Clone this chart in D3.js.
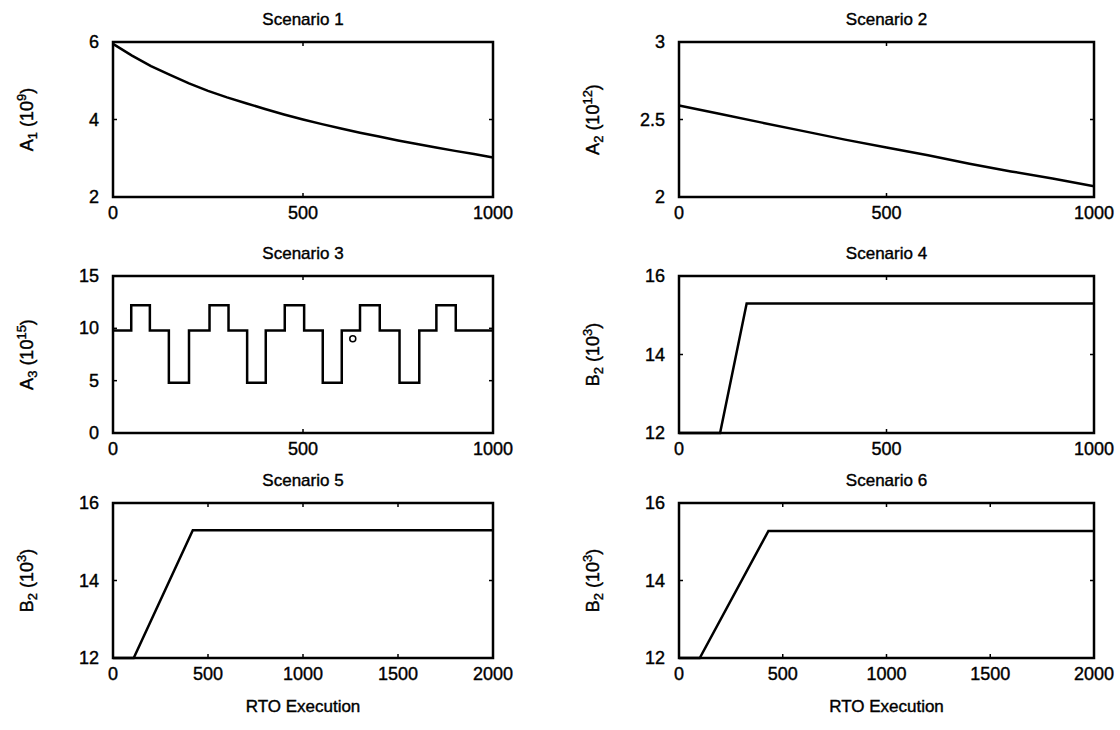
<!DOCTYPE html>
<html lang="en">
<head>
<meta charset="utf-8">
<title>RTO scenarios</title>
<script src="https://cdn.jsdelivr.net/npm/d3@7"></script>
<style>
	body {
		margin: 0px;
		padding: 0px;
		background-color: #fff;
	}

	svg text {
		font-family: "Liberation Sans", Arial, Helvetica, sans-serif;
		fill: #000;
		stroke: #000;
		stroke-width: 0.4;
	}

	.frame {
		fill: none;
		stroke: #000;
		stroke-width: 2.5;
	}

	.tick-mark {
		stroke: #000;
		stroke-width: 1.5;
	}

	.series {
		fill: none;
		stroke: #000;
		stroke-width: 2.5;
		stroke-linejoin: miter;
	}

	.tick-label {
		font-size: 18px;
	}

	.title {
		font-size: 17px;
	}

	.ylabel {
		font-size: 18px;
	}
</style>
</head>
<body>
<svg id="chart" width="1120" height="730"></svg>
<script>

	// Scenario 1 : A1 (10^9)
	var s1_t = [0, 50, 100, 150, 200, 250, 300, 350, 400, 450, 500, 550, 600, 650, 700, 750, 800, 850, 900, 950, 1000];
	var s1_a1 = [5.95, 5.65, 5.38, 5.15, 4.93, 4.74, 4.57, 4.42, 4.27, 4.13, 4.0, 3.88, 3.77, 3.66, 3.56, 3.46, 3.37, 3.28, 3.19, 3.11, 3.02];

	// Scenario 2 : A2 (10^12)
	var s2_t = [0, 100, 200, 300, 400, 500, 600, 700, 800, 900, 1000];
	var s2_a2 = [2.59, 2.535, 2.48, 2.425, 2.37, 2.32, 2.27, 2.215, 2.165, 2.12, 2.07];

	// Scenario 3 : A3 (10^15), value holds until the next switch
	var s3_t = [0, 48, 97, 147, 200, 254, 304, 353, 402, 452, 503, 552, 602, 650, 702, 754, 806, 851, 902, 1000];
	var s3_a3 = [9.8, 12.2, 9.8, 4.8, 9.8, 12.2, 9.8, 4.8, 9.8, 12.2, 9.8, 4.8, 9.8, 12.2, 9.8, 4.8, 9.8, 12.2, 9.8, 9.8];
	var s3_marker = [631, 9.0];

	// Scenarios 4-6 : B2 (10^3)
	var s4_t = [0, 99, 163, 1000];
	var s4_b2 = [12, 12, 15.3, 15.3];
	var s5_t = [0, 109, 420, 2000];
	var s5_b2 = [12, 12, 15.3, 15.3];
	var s6_t = [0, 100, 431, 2000];
	var s6_b2 = [12, 12, 15.28, 15.28];

	// axis ticks
	var xticks_1000 = [0, 500, 1000];
	var xticks_2000 = [0, 500, 1000, 1500, 2000];
	var yticks_a1 = [2, 4, 6];
	var yticks_a2 = [2, 2.5, 3];
	var yticks_a3 = [0, 5, 10, 15];
	var yticks_b2 = [12, 14, 16];

	var titles = ["Scenario 1", "Scenario 2", "Scenario 3", "Scenario 4", "Scenario 5", "Scenario 6"];
	var xlabel = "RTO Execution";

	// panel frame positions
	var cols = [{ x0: 113, x1: 493 }, { x0: 679, x1: 1094 }];
	var rows = [{ y0: 42, y1: 197 }, { y0: 276, y1: 433 }, { y0: 503, y1: 658 }];

	var panels = [
		{ t: s1_t, v: s1_a1, xd: [0, 1000], yd: [2, 6], xt: xticks_1000, yt: yticks_a1, lab: ["A", "1", "9"], step: false },
		{ t: s2_t, v: s2_a2, xd: [0, 1000], yd: [2, 3], xt: xticks_1000, yt: yticks_a2, lab: ["A", "2", "12"], step: false },
		{ t: s3_t, v: s3_a3, xd: [0, 1000], yd: [0, 15], xt: xticks_1000, yt: yticks_a3, lab: ["A", "3", "15"], step: true },
		{ t: s4_t, v: s4_b2, xd: [0, 1000], yd: [12, 16], xt: xticks_1000, yt: yticks_b2, lab: ["B", "2", "3"], step: false },
		{ t: s5_t, v: s5_b2, xd: [0, 2000], yd: [12, 16], xt: xticks_2000, yt: yticks_b2, lab: ["B", "2", "3"], step: false },
		{ t: s6_t, v: s6_b2, xd: [0, 2000], yd: [12, 16], xt: xticks_2000, yt: yticks_b2, lab: ["B", "2", "3"], step: false }
	];

	var svg = d3.select("#chart");
	var tickLen = 4;

	panels.forEach(function (p, i) {
		var c = cols[i % 2], r = rows[Math.floor(i / 2)];
		var x = d3.scaleLinear().domain(p.xd).range([c.x0, c.x1]);
		var y = d3.scaleLinear().domain(p.yd).range([r.y1, r.y0]);
		var g = svg.append("g").attr("class", "panel");

		// data line
		var pts = p.t.map(function (d, k) { return [d, p.v[k]]; });
		var line = d3.line()
			.x(function (d) { return x(d[0]); })
			.y(function (d) { return y(d[1]); })
			.curve(p.step ? d3.curveStepAfter : d3.curveLinear);
		g.append("path").attr("class", "series").attr("d", line(pts));

		if (i == 2) {
			g.append("circle")
				.attr("cx", x(s3_marker[0]))
				.attr("cy", y(s3_marker[1]))
				.attr("r", 3)
				.attr("fill", "none")
				.attr("stroke", "#000")
				.attr("stroke-width", 1.5);
		}

		// ticks inward on all four sides
		p.xt.forEach(function (d) {
			g.append("line").attr("class", "tick-mark")
				.attr("x1", x(d)).attr("x2", x(d))
				.attr("y1", r.y1).attr("y2", r.y1 - tickLen);
			g.append("line").attr("class", "tick-mark")
				.attr("x1", x(d)).attr("x2", x(d))
				.attr("y1", r.y0).attr("y2", r.y0 + tickLen);
			g.append("text").attr("class", "tick-label")
				.attr("x", x(d)).attr("y", r.y1 + 22)
				.attr("text-anchor", "middle")
				.text(d);
		});
		p.yt.forEach(function (d) {
			g.append("line").attr("class", "tick-mark")
				.attr("x1", c.x0).attr("x2", c.x0 + tickLen)
				.attr("y1", y(d)).attr("y2", y(d));
			g.append("line").attr("class", "tick-mark")
				.attr("x1", c.x1).attr("x2", c.x1 - tickLen)
				.attr("y1", y(d)).attr("y2", y(d));
			g.append("text").attr("class", "tick-label")
				.attr("x", c.x0 - 14).attr("y", y(d) + 6)
				.attr("text-anchor", "end")
				.text(d);
		});

		// frame
		g.append("rect").attr("class", "frame")
			.attr("x", c.x0).attr("y", r.y0)
			.attr("width", c.x1 - c.x0).attr("height", r.y1 - r.y0);

		// title
		g.append("text").attr("class", "title")
			.attr("x", (c.x0 + c.x1) / 2).attr("y", r.y0 - 17)
			.attr("text-anchor", "middle")
			.text(titles[i]);

		// y label with subscript and superscript
		var yl = g.append("text").attr("class", "ylabel")
			.attr("transform", "translate(" + (c.x0 - 80) + "," + ((r.y0 + r.y1) / 2) + ") rotate(-90)")
			.attr("text-anchor", "middle");
		yl.append("tspan").text(p.lab[0]);
		yl.append("tspan").attr("font-size", "13px").attr("dy", 4).text(p.lab[1]);
		yl.append("tspan").attr("dy", -4).text(" (10");
		yl.append("tspan").attr("font-size", "13px").attr("dy", -7).text(p.lab[2]);
		yl.append("tspan").attr("dy", 7).text(")");

		// x label on bottom row
		if (i >= 4) {
			g.append("text").attr("class", "title")
				.attr("x", (c.x0 + c.x1) / 2).attr("y", r.y1 + 54)
				.attr("text-anchor", "middle")
				.text(xlabel);
		}
	});

</script>
</body>
</html>
